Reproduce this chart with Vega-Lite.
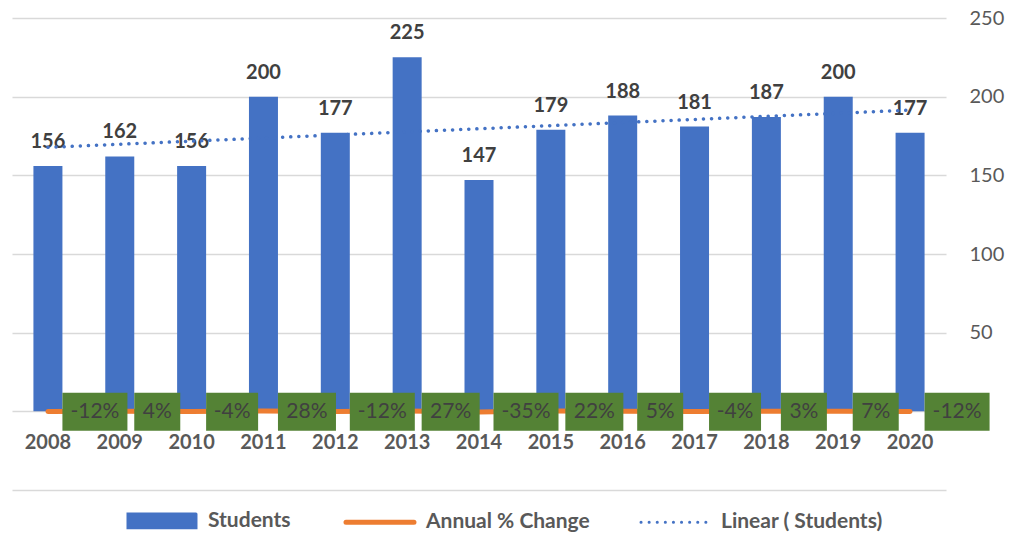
{
  "$schema": "https://vega.github.io/schema/vega-lite/v6.json",
  "width": 934,
  "height": 472,
  "autosize": "none",
  "padding": {"left": 12, "top": 18, "right": 67, "bottom": 43},
  "background": "white",
  "config": {"view": {"stroke": null}, "font": "Lato",
    "axisY": {"domain": false, "ticks": false, "tickSize": 0, "grid": true, "gridColor": "#D9D9D9", "gridWidth": 1.5,
      "labelAlign": "left", "labelBaseline": "middle", "labelPadding": 23, "labelFontSize": 20, "labelColor": "#595959", "labelFont": "Lato"}},
  "data": {"values": [
    {"Year": 2008, "Students": 156, "Change": -0.12, "Label": "-12%"},
    {"Year": 2009, "Students": 162, "Change": 0.038, "Label": "4%"},
    {"Year": 2010, "Students": 156, "Change": -0.037, "Label": "-4%"},
    {"Year": 2011, "Students": 200, "Change": 0.282, "Label": "28%"},
    {"Year": 2012, "Students": 177, "Change": -0.115, "Label": "-12%"},
    {"Year": 2013, "Students": 225, "Change": 0.271, "Label": "27%"},
    {"Year": 2014, "Students": 147, "Change": -0.347, "Label": "-35%"},
    {"Year": 2015, "Students": 179, "Change": 0.218, "Label": "22%"},
    {"Year": 2016, "Students": 188, "Change": 0.05, "Label": "5%"},
    {"Year": 2017, "Students": 181, "Change": -0.037, "Label": "-4%"},
    {"Year": 2018, "Students": 187, "Change": 0.033, "Label": "3%"},
    {"Year": 2019, "Students": 200, "Change": 0.07, "Label": "7%"},
    {"Year": 2020, "Students": 177, "Change": -0.115, "Label": "-12%"}
  ]},
  "encoding": {
    "x": {
      "field": "Year", "type": "ordinal",
      "scale": {"paddingInner": 0.2, "paddingOuter": 0.1},
      "axis": {"title": null, "labelAngle": 0, "domain": false, "ticks": false, "tickSize": 0, "grid": false,
        "labelFontSize": 20, "labelFontWeight": "bold", "labelColor": "#595959", "labelFont": "Lato",
        "labelBaseline": "alphabetic", "labelPadding": -42}
    }
  },
  "layer": [
    {
      "mark": {"type": "bar", "width": 29},
      "encoding": {
        "y": {"field": "Students", "type": "quantitative",
          "scale": {"domain": [-50, 250], "nice": false, "zero": false},
          "axis": {"orient": "right", "title": null, "values": [-50, 0, 50, 100, 150, 200, 250], "labelExpr": "datum.value < 0 ? '' : datum.label"}},
        "color": {"datum": "Students", "type": "nominal",
          "scale": {"domain": ["Students", "Annual % Change", "Linear ( Students)"], "range": ["#4472C4", "#ED7D31", "#4472C4"]},
          "legend": {"orient": "none", "legendX": 116, "legendY": 492, "direction": "horizontal", "title": null,
            "labelFontSize": 21, "labelFontWeight": "bold", "labelColor": "#595959", "labelFont": "Lato",
            "labelLimit": 400, "labelOffset": 59, "columnPadding": 44,
            "encode": {"symbols": {"update": {
              "size": {"value": 4624},
              "shape": {"signal": "datum.value === 'Students' ? 'M-0.309,-0.2H1.691V0.2H-0.309Z' : 'M-0.309,0H1.691'"},
              "fill": {"signal": "datum.value === 'Students' ? '#4472C4' : 'transparent'"},
              "stroke": {"signal": "datum.value === 'Annual % Change' ? '#ED7D31' : (datum.value === 'Students' ? 'transparent' : '#4472C4')"},
              "strokeWidth": {"signal": "datum.value === 'Annual % Change' ? 5 : 3"},
              "strokeDash": {"signal": "datum.value === 'Linear ( Students)' ? [0.1, 8] : [1, 0]"},
              "strokeCap": {"value": "round"},
              "opacity": {"value": 1}
            }}}}
        }
      }
    },
    {
      "mark": {"type": "text", "fontSize": 20, "fontWeight": "bold", "color": "#404040", "baseline": "alphabetic", "dy": -18, "font": "Lato"},
      "encoding": {
        "y": {"field": "Students", "type": "quantitative", "axis": {"orient": "right", "title": null, "values": [-50, 0, 50, 100, 150, 200, 250], "labelExpr": "datum.value < 0 ? '' : datum.label"}},
        "text": {"field": "Students", "type": "quantitative"}
      }
    },
    {
      "transform": [{"regression": "Students", "on": "Year"}],
      "mark": {"type": "line", "strokeWidth": 3.5, "strokeDash": [0.1, 8], "strokeCap": "round"},
      "encoding": {
        "y": {"field": "Students", "type": "quantitative", "axis": {"orient": "right", "title": null, "values": [-50, 0, 50, 100, 150, 200, 250], "labelExpr": "datum.value < 0 ? '' : datum.label"}},
        "color": {"datum": "Linear ( Students)", "type": "nominal"}
      }
    },
    {
      "mark": {"type": "line", "strokeWidth": 5, "strokeCap": "round"},
      "encoding": {
        "y": {"field": "Change", "type": "quantitative", "axis": {"orient": "right", "title": null, "values": [-50, 0, 50, 100, 150, 200, 250], "labelExpr": "datum.value < 0 ? '' : datum.label"}},
        "color": {"datum": "Annual % Change", "type": "nominal"}
      }
    },
    {
      "mark": {"type": "bar", "color": "#548235",
        "xOffset": {"expr": "14.5 + (length(datum.Label)==2 ? 46 : length(datum.Label)==3 ? (substring(datum.Label,0,1)=='-' ? 52 : 58) : 65)/2"}},
      "encoding": {
        "y": {"datum": 11.8, "type": "quantitative", "axis": {"orient": "right", "title": null, "values": [-50, 0, 50, 100, 150, 200, 250], "labelExpr": "datum.value < 0 ? '' : datum.label"}},
        "y2": {"datum": -12.4},
        "size": {"condition": [
          {"test": "length(datum.Label)==2", "value": 46},
          {"test": "length(datum.Label)==3 && substring(datum.Label,0,1)=='-'", "value": 52},
          {"test": "length(datum.Label)==3", "value": 58}
        ], "value": 65}
      }
    },
    {
      "mark": {"type": "text", "fontSize": 21, "color": "#404040", "align": "center", "baseline": "middle", "dy": 1, "font": "Lato",
        "dx": {"expr": "14.5 + (length(datum.Label)==2 ? 46 : length(datum.Label)==3 ? (substring(datum.Label,0,1)=='-' ? 52 : 58) : 65)/2"}},
      "encoding": {
        "y": {"datum": 0, "type": "quantitative", "axis": {"orient": "right", "title": null, "values": [-50, 0, 50, 100, 150, 200, 250], "labelExpr": "datum.value < 0 ? '' : datum.label"}},
        "text": {"field": "Label", "type": "nominal"}
      }
    }
  ]
}
